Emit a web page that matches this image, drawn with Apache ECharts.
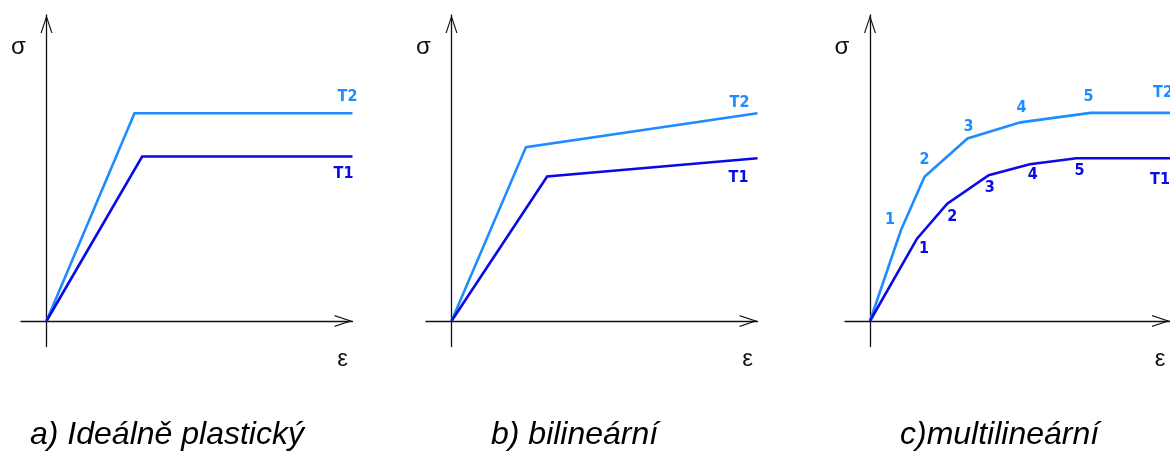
<!DOCTYPE html>
<html>
<head>
<meta charset="utf-8">
<script src="https://cdn.jsdelivr.net/npm/echarts@6/dist/echarts.min.js"></script>
<style>
  html, body { margin: 0; padding: 0; background: #ffffff; }
  #chart { width: 1170px; height: 452px; }
</style>
</head>
<body>
<div id="chart"></div>
<script>
// Shared axis range of every panel (strain and stress use the same unit length)
const axisMin = -1;
const axisMax = 12;

// a) ideally plastic material
const idealT1 = [[0, 0], [3.75, 6.45], [12, 6.45]];
const idealT2 = [[0, 0], [3.45, 8.15], [12, 8.15]];

// b) bilinear material
const bilinT1 = [[0, 0], [3.75, 5.67], [12, 6.38]];
const bilinT2 = [[0, 0], [2.92, 6.82], [12, 8.15]];

// c) multilinear material
const multiT1 = [[0, 0], [1.88, 3.23], [3.09, 4.60], [4.75, 5.72], [6.39, 6.15], [8.26, 6.38], [12, 6.38]];
const multiT2 = [[0, 0], [1.24, 3.57], [2.18, 5.66], [3.90, 7.16], [6.02, 7.79], [8.82, 8.16], [12, 8.16]];

const pointNames = ['', '1', '2', '3', '4', '5', ''];
const curveNames = ['T1', 'T2'];
const captions = ['a) Ideálně plastický', 'b) bilineární', 'c)multilineární'];
const stressSymbol = 'σ';
const strainSymbol = 'ε';

// styling
const colorT1 = '#0a0ae6';
const colorT2 = '#1e8cff';
const axisColor = '#111111';
const markFont = '"DejaVu Sans Condensed", "Liberation Sans Narrow", "Roboto Condensed", "DejaVu Sans", sans-serif';
const gridLefts = [21, 426, 845];
const unit = 25.5;
const gridTop = 15;
const captionX = [30, 491, 900];

// label offsets (px) for point numbers and curve names
const numOffsetT1 = [null, [7, 10], [5, 13], [1, 13], [3, 11], [3, 13], null];
const numOffsetT2 = [null, [-11, -10], [0, -17], [1, -12], [1, -15], [-2, -16], null];
const nameOffsets = [
  { T1: [-9, 17], T2: [-5, -16] },
  { T1: [-19, 20], T2: [-18, -10] },
  { T1: [-10, 22], T2: [-7, -20] }
];

const arrowPath = 'path://M6 0L12 18L10.8 18L6 3.6L1.2 18L0 18Z';

function axisLine() {
  return {
    onZero: true,
    lineStyle: { color: axisColor, width: 1.3 },
    symbol: ['none', arrowPath],
    symbolSize: [12, 18],
    symbolOffset: [0, -9]
  };
}

const grids = [], xAxes = [], yAxes = [];
for (let i = 0; i < 3; i++) {
  grids.push({ left: gridLefts[i], top: gridTop, width: unit * (axisMax - axisMin), height: unit * (axisMax - axisMin) });
  xAxes.push({ gridIndex: i, type: 'value', min: axisMin, max: axisMax, axisLine: axisLine(),
    axisTick: { show: false }, axisLabel: { show: false }, splitLine: { show: false } });
  yAxes.push({ gridIndex: i, type: 'value', min: axisMin, max: axisMax, axisLine: axisLine(),
    axisTick: { show: false }, axisLabel: { show: false }, splitLine: { show: false } });
}

function curve(data, gridIndex, color, name, nameOffset, numOffsets) {
  return {
    type: 'line',
    name: name,
    xAxisIndex: gridIndex,
    yAxisIndex: gridIndex,
    symbol: 'circle',
    symbolSize: 0,
    showSymbol: true,
    clip: false,
    silent: true,
    animation: false,
    lineStyle: { color: color, width: 2.6, join: 'miter' },
    itemStyle: { color: color },
    emphasis: { disabled: true },
    label: { position: 'inside', color: color, fontFamily: markFont, fontWeight: 'bold', fontSize: 16 },
    data: data.map(function (p, i) {
      let label = { show: false };
      if (i === data.length - 1) {
        label = { show: true, formatter: name, offset: nameOffset };
      } else if (numOffsets && pointNames[i]) {
        label = { show: true, formatter: pointNames[i], offset: numOffsets[i] };
      }
      return { value: p, label: label };
    })
  };
}

const series = [
  curve(idealT2, 0, colorT2, curveNames[1], nameOffsets[0].T2, null),
  curve(idealT1, 0, colorT1, curveNames[0], nameOffsets[0].T1, null),
  curve(bilinT2, 1, colorT2, curveNames[1], nameOffsets[1].T2, null),
  curve(bilinT1, 1, colorT1, curveNames[0], nameOffsets[1].T1, null),
  curve(multiT2, 2, colorT2, curveNames[1], nameOffsets[2].T2, numOffsetT2),
  curve(multiT1, 2, colorT1, curveNames[0], nameOffsets[2].T1, numOffsetT1)
];

const chart = echarts.init(document.getElementById('chart'), null, { renderer: 'canvas' });
chart.setOption({
  backgroundColor: '#ffffff',
  animation: false,
  grid: grids,
  xAxis: xAxes,
  yAxis: yAxes,
  series: series
});

// axis symbols and panel captions
const graphics = [];
for (let i = 0; i < 3; i++) {
  const top = chart.convertToPixel({ gridIndex: i }, [0, axisMax]);
  const end = chart.convertToPixel({ gridIndex: i }, [axisMax, 0]);
  graphics.push({
    type: 'text', silent: true,
    style: { text: stressSymbol, x: top[0] - 28, y: top[1] + 32, align: 'center', verticalAlign: 'middle',
      font: '24px "Liberation Sans", Arial, sans-serif', fill: '#111' }
  });
  graphics.push({
    type: 'text', silent: true,
    style: { text: strainSymbol, x: end[0] - 10, y: end[1] + 38, align: 'center', verticalAlign: 'middle',
      font: '24px "Liberation Sans", Arial, sans-serif', fill: '#111' }
  });
  graphics.push({
    type: 'text', silent: true,
    style: { text: captions[i], x: captionX[i], y: 435, align: 'left', verticalAlign: 'middle',
      font: 'italic 32px "Liberation Sans", Arial, sans-serif', fill: '#000' }
  });
}
chart.setOption({ graphic: graphics });
</script>
</body>
</html>
